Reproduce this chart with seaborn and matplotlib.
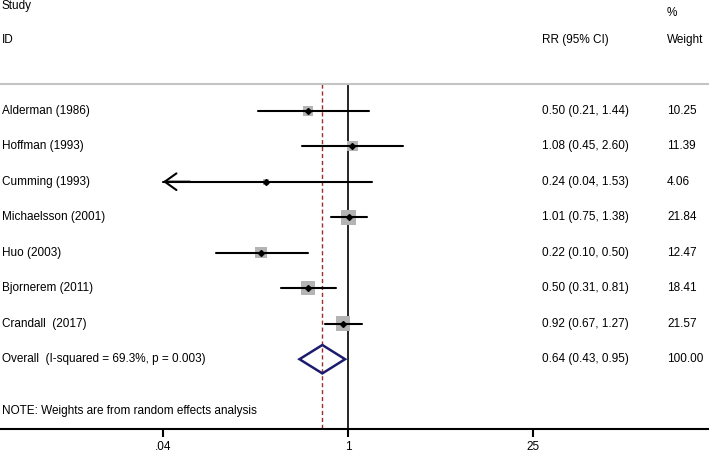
import matplotlib
matplotlib.use("Agg")
import matplotlib.pyplot as plt
import matplotlib.transforms as mtransforms
import seaborn as sns
import numpy as np

# study data
studies = ["Alderman (1986)", "Hoffman (1993)", "Cumming (1993)", "Michaelsson (2001)",
           "Huo (2003)", "Bjornerem (2011)", "Crandall  (2017)"]
rr = [0.50, 1.08, 0.24, 1.01, 0.22, 0.50, 0.92]
lo = [0.21, 0.45, 0.04, 0.75, 0.10, 0.31, 0.67]
hi = [1.44, 2.60, 1.53, 1.38, 0.50, 0.81, 1.27]
weights = [10.25, 11.39, 4.06, 21.84, 12.47, 18.41, 21.57]

overall_label = "Overall  (I-squared = 69.3%, p = 0.003)"
overall = [0.64, 0.43, 0.95]
overall_weight = 100.00
note = "NOTE: Weights are from random effects analysis"

tick_vals = [0.04, 1, 25]
tick_labels = [".04", "1", "25"]
clip_lo = 0.04

sns.set_theme(style="white")
plt.rcParams["font.family"] = ["Liberation Sans", "DejaVu Sans"]
fs = 8.5

fig = plt.figure(figsize=(7.09, 4.53), dpi=100)
ax = fig.add_axes([0, 24 / 453, 1, 429 / 453])

rows = np.arange(len(studies))
ov_row = len(studies)

# CI lines
for r, a, b in zip(rows, lo, hi):
    ax.plot([max(a, clip_lo), b], [r, r], color="black", lw=1.5, zorder=3)
    if a <= clip_lo:
        ax.annotate("", xy=(clip_lo, r), xytext=(clip_lo * 1.6, r),
                    arrowprops=dict(arrowstyle="->,head_length=0.7,head_width=0.5",
                                    color="black", lw=1.5, shrinkA=0, shrinkB=0),
                    zorder=3)

# weight boxes
sns.scatterplot(x=rr, y=rows, size=weights, sizes=(5.1 * min(weights), 5.1 * max(weights)),
                size_norm=(min(weights), max(weights)), marker="s", color="#b4b4b4",
                edgecolor="none", legend=False, ax=ax, zorder=2)
ax.plot(rr, rows, "D", color="black", ms=3, ls="none", zorder=4)

# overall diamond
est, olo, ohi = overall
h = 0.4
ax.fill([olo, est, ohi, est, olo], [ov_row, ov_row - h, ov_row, ov_row + h, ov_row],
        facecolor="none", edgecolor="#1c1c6e", lw=1.8, zorder=4)

# header rule and reference lines
top_rule = -0.752
ax.axhline(top_rule, color="#c4c4c4", lw=1.5)
ax.plot([1, 1], [top_rule, 9.2], color="black", lw=1.2, zorder=1)
ax.plot([est, est], [top_rule, 9.2], color="#9b2d2d", lw=1, ls=(0, (3, 2)), zorder=1)

ax.set_xscale("log")
ax.set_xlim(0.002347, 534.3)
ax.set_ylim(8.966, -3.118)
ax.set_xticks(tick_vals)
ax.set_xticklabels(tick_labels, fontsize=fs)
ax.minorticks_off()
ax.set_yticks([])
for s in ["top", "left", "right"]:
    ax.spines[s].set_visible(False)
ax.spines["bottom"].set_color("black")
ax.spines["bottom"].set_linewidth(1.5)
ax.tick_params(axis="x", direction="out", length=6, width=1.5, color="black",
               labelcolor="black", pad=3, bottom=True)

# text columns
tr = mtransforms.blended_transform_factory(ax.transAxes, ax.transData)
x_id = 2 / 709
x_rr = 542 / 709
x_w = 667 / 709
kw = dict(transform=tr, fontsize=fs, va="center", ha="left", color="black")

ax.text(x_id, -2.95, "Study", **kw)
ax.text(x_id, -1.98, "ID", **kw)
ax.text(x_rr, -1.98, "RR (95% CI)", **kw)
ax.text(x_w, -2.75, "%", **kw)
ax.text(x_w, -1.98, "Weight", **kw)

for r, name, e, a, b, w in zip(rows, studies, rr, lo, hi, weights):
    ax.text(x_id, r, name, **kw)
    ax.text(x_rr, r, f"{e:.2f} ({a:.2f}, {b:.2f})", **kw)
    ax.text(x_w, r, f"{w:.2f}", **kw)

ax.text(x_id, ov_row, overall_label, **kw)
ax.text(x_rr, ov_row, f"{est:.2f} ({olo:.2f}, {ohi:.2f})", **kw)
ax.text(x_w, ov_row, f"{overall_weight:.2f}", **kw)
ax.text(x_id, 8.46, note, **kw)

fig.savefig("out.png", dpi=100)
